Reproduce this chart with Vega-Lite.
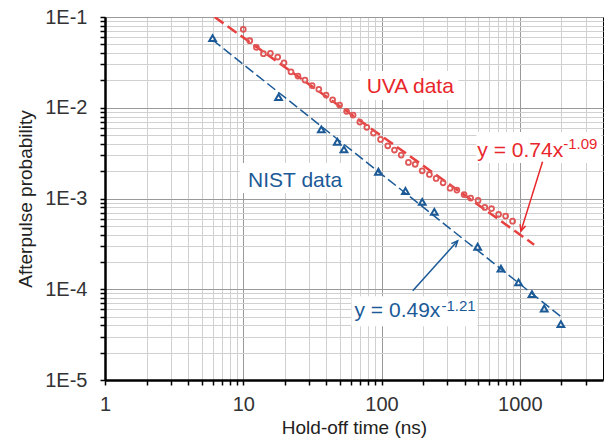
{
  "$schema": "https://vega.github.io/schema/vega-lite/v6.json",
  "width": 498,
  "height": 363,
  "autosize": {"type": "none"},
  "padding": {"left": 105, "top": 17, "right": 4, "bottom": 61},
  "background": "white",
  "config": {
    "view": {"stroke": "black", "strokeWidth": 1},
    "font": "Liberation Sans"
  },
  "datasets": {
    "uva": [
      {"x": 10.0, "y": 0.0732}, {"x": 11.14, "y": 0.0548}, {"x": 12.45, "y": 0.0463}, {"x": 13.99, "y": 0.0394},
      {"x": 15.72, "y": 0.0398}, {"x": 17.75, "y": 0.0362}, {"x": 19.71, "y": 0.0313}, {"x": 22.14, "y": 0.0249},
      {"x": 24.87, "y": 0.02236}, {"x": 27.94, "y": 0.0202}, {"x": 31.49, "y": 0.01757}, {"x": 35.2, "y": 0.016},
      {"x": 39.74, "y": 0.0138}, {"x": 44.3, "y": 0.01225}, {"x": 49.75, "y": 0.01071}, {"x": 55.9, "y": 0.00913},
      {"x": 62.3, "y": 0.00831}, {"x": 69.7, "y": 0.00696}, {"x": 78.3, "y": 0.00608}, {"x": 87.5, "y": 0.00526},
      {"x": 98.4, "y": 0.00448}, {"x": 111, "y": 0.00381}, {"x": 124.1, "y": 0.00342}, {"x": 138.8, "y": 0.00301},
      {"x": 156.6, "y": 0.0025}, {"x": 175.1, "y": 0.00238}, {"x": 196.8, "y": 0.00202}, {"x": 222.1, "y": 0.00184},
      {"x": 248.3, "y": 0.001666}, {"x": 279, "y": 0.00149}, {"x": 313.3, "y": 0.0013}, {"x": 350.9, "y": 0.001238},
      {"x": 395.5, "y": 0.001104}, {"x": 441.3, "y": 0.00101}, {"x": 499.2, "y": 0.000953}, {"x": 558.9, "y": 0.000798},
      {"x": 624.8, "y": 0.000774}, {"x": 703, "y": 0.00067}, {"x": 790, "y": 0.00064}, {"x": 887.3, "y": 0.000563}
    ],
    "nist": [
      {"x": 6, "y": 0.0586}, {"x": 18, "y": 0.0131}, {"x": 36.7, "y": 0.00578}, {"x": 47.9, "y": 0.00422},
      {"x": 53.5, "y": 0.00347}, {"x": 95, "y": 0.00197}, {"x": 149, "y": 0.00121}, {"x": 197, "y": 0.00092},
      {"x": 241, "y": 0.000713}, {"x": 496, "y": 0.000294}, {"x": 731, "y": 0.000169}, {"x": 980, "y": 0.000119},
      {"x": 1225, "y": 0.0000883}, {"x": 1503, "y": 0.0000614}, {"x": 1983, "y": 0.0000412}
    ],
    "uvaFit": [{"x": 6.2, "y": 0.1}, {"x": 1270, "y": 0.00031}],
    "nistFit": [{"x": 6, "y": 0.0558}, {"x": 2000, "y": 0.0000495}],
    "boxes": [
      {"x": 69.4, "x2": 359.8, "y": 0.02539, "y2": 0.01216},
      {"x": 9.435, "x2": 58.7, "y": 0.002457, "y2": 0.001147},
      {"x": 485.3, "x2": 3876, "y": 0.0054, "y2": 0.002457},
      {"x": 60.7, "x2": 493.3, "y": 0.0000839, "y2": 0.0000392}
    ],
    "uvaArrow": [{"x": 1461, "y": 0.002539, "x2": 1020, "y2": 0.000437}],
    "nistArrow": [{"x": 168.3, "y": 0.000096, "x2": 355.6, "y2": 0.000342}],
    "uvaHead": [{"x": 1020, "y": 0.000437}],
    "nistHead": [{"x": 355.6, "y": 0.000342}],
    "uvaText": [
      {"x": 161.4, "y": 0.01463, "label": "UVA data"}
    ],
    "uvaEq": [{"x": 493.3, "y": 0.00286, "label": "y = 0.74x"}],
    "uvaSup": [{"x": 2061, "y": 0.003505, "label": "-1.09"}],
    "nistText": [{"x": 23.74, "y": 0.001335, "label": "NIST data"}],
    "nistEq": [{"x": 63.8, "y": 0.0000496, "label": "y = 0.49x"}],
    "nistSup": [{"x": 271.2, "y": 0.0000573, "label": "-1.21"}]
  },
  "encoding": {
    "x": {
      "field": "x", "type": "quantitative",
      "scale": {"type": "log", "domain": [1, 4000], "nice": false},
      "axis": {
        "title": "Hold-off time (ns)",
        "values": [1,2,3,4,5,6,7,8,9,10,20,30,40,50,60,70,80,90,100,200,300,400,500,600,700,800,900,1000,2000,3000],
        "labelExpr": "abs(log(datum.value)/LN10 - round(log(datum.value)/LN10)) < 0.001 ? format(datum.value, 'd') : ''",
        "labelOverlap": false,
        "labelFlush": false,
        "grid": true,
        "gridColor": {"condition": {"test": "abs(log(datum.value)/LN10 - round(log(datum.value)/LN10)) < 0.001", "value": "#999999"}, "value": "#d0d0d0"},
        "gridWidth": 1,
        "tickSize": 5, "tickColor": "black", "tickWidth": 1.5,
        "domainColor": "black", "domainWidth": 2.5,
        "labelFontSize": 20, "labelColor": "#333333", "labelPadding": 9, "labelFont": "Liberation Sans",
        "titleFontSize": 19, "titleFontWeight": "normal", "titleColor": "#222222", "titleFont": "Liberation Sans",
        "titleBaseline": "alphabetic", "titleY": 53
      }
    },
    "y": {
      "field": "y", "type": "quantitative",
      "scale": {"type": "log", "domain": [0.00001, 0.1], "nice": false},
      "axis": {
        "title": "Afterpulse probability",
        "values": [1e-5,2e-5,3e-5,4e-5,5e-5,6e-5,7e-5,8e-5,9e-5,1e-4,2e-4,3e-4,4e-4,5e-4,6e-4,7e-4,8e-4,9e-4,1e-3,2e-3,3e-3,4e-3,5e-3,6e-3,7e-3,8e-3,9e-3,1e-2,2e-2,3e-2,4e-2,5e-2,6e-2,7e-2,8e-2,9e-2,1e-1],
        "labelExpr": "abs(log(datum.value)/LN10 - round(log(datum.value)/LN10)) < 0.001 ? '1E' + round(log(datum.value)/LN10) : ''",
        "labelOverlap": false,
        "labelFlush": false,
        "grid": true,
        "gridColor": {"condition": {"test": "abs(log(datum.value)/LN10 - round(log(datum.value)/LN10)) < 0.001", "value": "#999999"}, "value": "#d0d0d0"},
        "gridWidth": 1,
        "tickSize": 5, "tickColor": "black", "tickWidth": 1.5,
        "domainColor": "black", "domainWidth": 2.5,
        "labelFontSize": 20, "labelColor": "#333333", "labelPadding": 13, "labelFont": "Liberation Sans",
        "titleFontSize": 19, "titleFontWeight": "normal", "titleColor": "#222222", "titleFont": "Liberation Sans",
        "titleBaseline": "alphabetic", "titleX": -74, "titleY": 181.5, "titleAngle": 270
      }
    }
  },
  "layer": [
    {
      "data": {"name": "boxes"},
      "mark": {"type": "rect", "fill": "white", "stroke": null},
      "encoding": {"x2": {"field": "x2"}, "y2": {"field": "y2"}}
    },
    {
      "data": {"name": "nistFit"},
      "mark": {"type": "line", "color": "#1B5A97", "strokeWidth": 1.5, "strokeDash": [10, 4], "clip": true}
    },
    {
      "data": {"name": "uvaFit"},
      "mark": {"type": "line", "color": "#E8403F", "strokeWidth": 2.5, "strokeDash": [11, 5], "clip": true}
    },
    {
      "data": {"name": "uva"},
      "mark": {"type": "point", "shape": "circle", "filled": false, "color": "#E05656", "size": 24, "strokeWidth": 1.8, "opacity": 1}
    },
    {
      "data": {"name": "nist"},
      "mark": {"type": "point", "shape": "triangle-up", "filled": false, "color": "#1B5A97", "size": 45, "strokeWidth": 2, "opacity": 1}
    },
    {
      "data": {"name": "uvaArrow"},
      "mark": {"type": "rule", "color": "#E8262B", "strokeWidth": 1.5},
      "encoding": {"x2": {"field": "x2"}, "y2": {"field": "y2"}}
    },
    {
      "data": {"name": "nistArrow"},
      "mark": {"type": "rule", "color": "#1B5A97", "strokeWidth": 1.5},
      "encoding": {"x2": {"field": "x2"}, "y2": {"field": "y2"}}
    },
    {
      "data": {"name": "uvaHead"},
      "mark": {"type": "point", "shape": "M-0.45,1L0,0L0.45,1", "filled": false, "color": "#E8262B", "size": 160, "strokeWidth": 1.5, "angle": 197, "opacity": 1}
    },
    {
      "data": {"name": "nistHead"},
      "mark": {"type": "point", "shape": "M-0.45,1L0,0L0.45,1", "filled": false, "color": "#1B5A97", "size": 160, "strokeWidth": 1.5, "angle": 42, "opacity": 1}
    },
    {
      "data": {"name": "uvaText"},
      "mark": {"type": "text", "color": "#E8262B", "fontSize": 21, "align": "center", "baseline": "alphabetic", "font": "Liberation Sans"},
      "encoding": {"text": {"field": "label"}}
    },
    {
      "data": {"name": "uvaEq"},
      "mark": {"type": "text", "color": "#E8262B", "fontSize": 21, "align": "left", "baseline": "alphabetic", "font": "Liberation Sans"},
      "encoding": {"text": {"field": "label"}}
    },
    {
      "data": {"name": "uvaSup"},
      "mark": {"type": "text", "color": "#E8262B", "fontSize": 15, "align": "left", "baseline": "alphabetic", "font": "Liberation Sans"},
      "encoding": {"text": {"field": "label"}}
    },
    {
      "data": {"name": "nistText"},
      "mark": {"type": "text", "color": "#1B5A97", "fontSize": 21, "align": "center", "baseline": "alphabetic", "font": "Liberation Sans"},
      "encoding": {"text": {"field": "label"}}
    },
    {
      "data": {"name": "nistEq"},
      "mark": {"type": "text", "color": "#1B5A97", "fontSize": 21, "align": "left", "baseline": "alphabetic", "font": "Liberation Sans"},
      "encoding": {"text": {"field": "label"}}
    },
    {
      "data": {"name": "nistSup"},
      "mark": {"type": "text", "color": "#1B5A97", "fontSize": 15, "align": "left", "baseline": "alphabetic", "font": "Liberation Sans"},
      "encoding": {"text": {"field": "label"}}
    }
  ]
}
